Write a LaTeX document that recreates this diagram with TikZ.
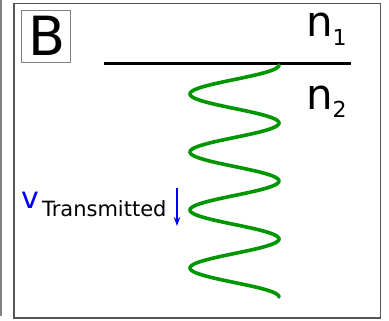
\documentclass[tikz,border=0pt]{standalone}
\usepackage{fontspec}
\setmainfont{DejaVu Sans}
\usetikzlibrary{arrows.meta}
\definecolor{framegray}{RGB}{85,85,85}
\definecolor{wavegreen}{RGB}{0,150,0}
\tikzset{
  frame/.style={draw=framegray, line width=1.8pt},
  labelbox/.style={draw=gray, line width=0.9pt},
  lbl/.style={inner sep=0pt, outer sep=0pt},
  wave/.style={draw=wavegreen, line width=3.6pt, line cap=round},
  interface/.style={draw=black, line width=3pt},
  vel/.style={draw=blue, line width=1.8pt, -{Stealth[length=9pt,width=6.5pt]}}
}
\begin{document}
\begin{tikzpicture}[x=1pt,y=-1pt]
\useasboundingbox (0,0) rectangle (389,321);
% partial neighbouring panel edge
\draw[draw=gray, line width=1.5pt] (1,0) -- (1,316);
% panel frame
\draw[frame] (14,3.5) rectangle (380.5,318);
% label box B
\draw[labelbox] (21,10) rectangle (70,62);
\node[lbl, font=\fontsize{54}{54}\selectfont] (B) at (47,35.5) {B};
% interface
\coordinate (iL) at (104,64);
\coordinate (iR) at (351,64);
\draw[interface] (iL) -- (iR);
% indices
\node[lbl, anchor=base west, font=\fontsize{42}{42}\selectfont] (n1) at (306,37) {n\raisebox{-9pt}{\fontsize{22}{22}\selectfont 1}};
\node[lbl, anchor=base west, font=\fontsize{42}{42}\selectfont] (n2) at (306,110) {n\raisebox{-8pt}{\fontsize{22}{22}\selectfont 2}};
% transmitted wave
\draw[wave] plot[domain=0:232, samples=200, smooth, variable=\t] ({234.5+44.5*cos(6.2069*\t)}, {65+\t});
% velocity label
\node[lbl, anchor=base west, font=\fontsize{30}{30}\selectfont, text=blue] (v) at (21,208) {v};
\node[lbl, anchor=base west, font=\fontsize{21}{21}\selectfont] (vt) at (42,216) {Transmitted};
\coordinate (aTop) at (177,188);
\coordinate (aBot) at (177,226);
\draw[vel] (aTop) -- (aBot);
\end{tikzpicture}
\end{document}
